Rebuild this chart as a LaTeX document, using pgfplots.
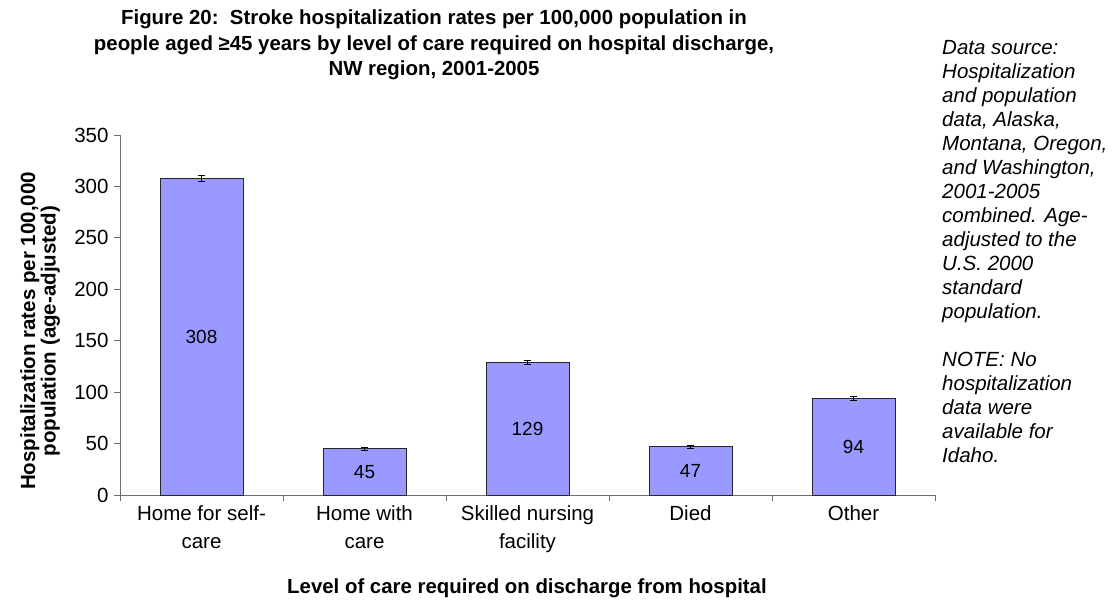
\documentclass[border=0pt]{standalone}
\usepackage{pgfplots}
\pgfplotsset{compat=1.18}
\usepackage{fontspec}
\setmainfont{Liberation Sans}
\definecolor{barfill}{HTML}{9999FF}
\definecolor{axgray}{HTML}{6E6E6E}
\begin{document}
\begin{tikzpicture}[x=1pt,y=1pt]
\path[use as bounding box] (0,0) rectangle (1115,602);
\begin{axis}[
  scale only axis, width=815pt, height=360pt,
  at={(120pt,107pt)}, anchor=south west,
  xmin=-0.5, xmax=4.5, ymin=0, ymax=350,
  axis x line*=bottom, axis y line*=left,
  axis line style={axgray, line width=0.8pt},
  every tick/.style={axgray, line width=0.8pt},
  tick align=outside,
  ytick={0,50,...,350},
  xtick={0,1,2,3,4},
  major x tick style={draw=none},
  minor xtick={-0.5,0.5,1.5,2.5,3.5,4.5},
  minor tick length=6pt, major tick length=6pt,
  xticklabels={{Home for self-\\care},{Home with\\care},{Skilled nursing\\facility},{Died},{Other}},
  xticklabel style={align=center, font=\fontsize{20.5}{28}\selectfont, anchor=north, yshift=-1pt},
  yticklabel style={font=\fontsize{20.5}{24}\selectfont, xshift=-2pt},
  /pgf/number format/assume math mode=true,
  clip=false,
]
\addplot[ybar, bar width=83pt, fill=barfill, draw=black!85, line width=0.8pt,
  error bars/.cd, y dir=both, y explicit,
  error bar style={black, line width=0.9pt},
  error mark options={rotate=90, mark size=3.5pt, black, line width=0.9pt}]
  coordinates {(0,308) +- (0,3) (1,45) +- (0,1.5) (2,129) +- (0,2) (3,47) +- (0,1.5) (4,94) +- (0,2)};
\addplot[draw=none, mark=none, nodes near coords, point meta=explicit symbolic,
  nodes near coords align=center,
  every node near coord/.append style={font=\fontsize{19}{22}\selectfont, anchor=center}]
  coordinates {(0,154)[308] (1,22.5)[45] (2,64.5)[129] (3,23.5)[47] (4,47)[94]};
\end{axis}
\node[align=center, font=\bfseries\fontsize{20.4}{25.5}\selectfont] at (434,557)
  {Figure 20:\ \ Stroke hospitalization rates per 100,000 population in\\
   people aged ≥45 years by level of care required on hospital discharge,\\
   NW region, 2001-2005};
\node[rotate=90, align=center, font=\bfseries\fontsize{20.5}{20.5}\selectfont] at (40,271)
  {Hospitalization rates per 100,000\\population (age-adjusted)};
\node[font=\bfseries\fontsize{20.4}{24}\selectfont] at (527,14)
  {Level of care required on discharge from hospital};
\node[anchor=north west, align=left, inner sep=0pt, font=\itshape\fontsize{20.5}{24}\selectfont] at (942,562)
  {Data source:\\Hospitalization\\and population\\data, Alaska,\\Montana, Oregon,\\and Washington,\\2001-2005\\combined. Age-\\adjusted to the\\U.S. 2000\\standard\\population.\\[24pt]NOTE: No\\hospitalization\\data were\\available for\\Idaho.};
\end{tikzpicture}
\end{document}
